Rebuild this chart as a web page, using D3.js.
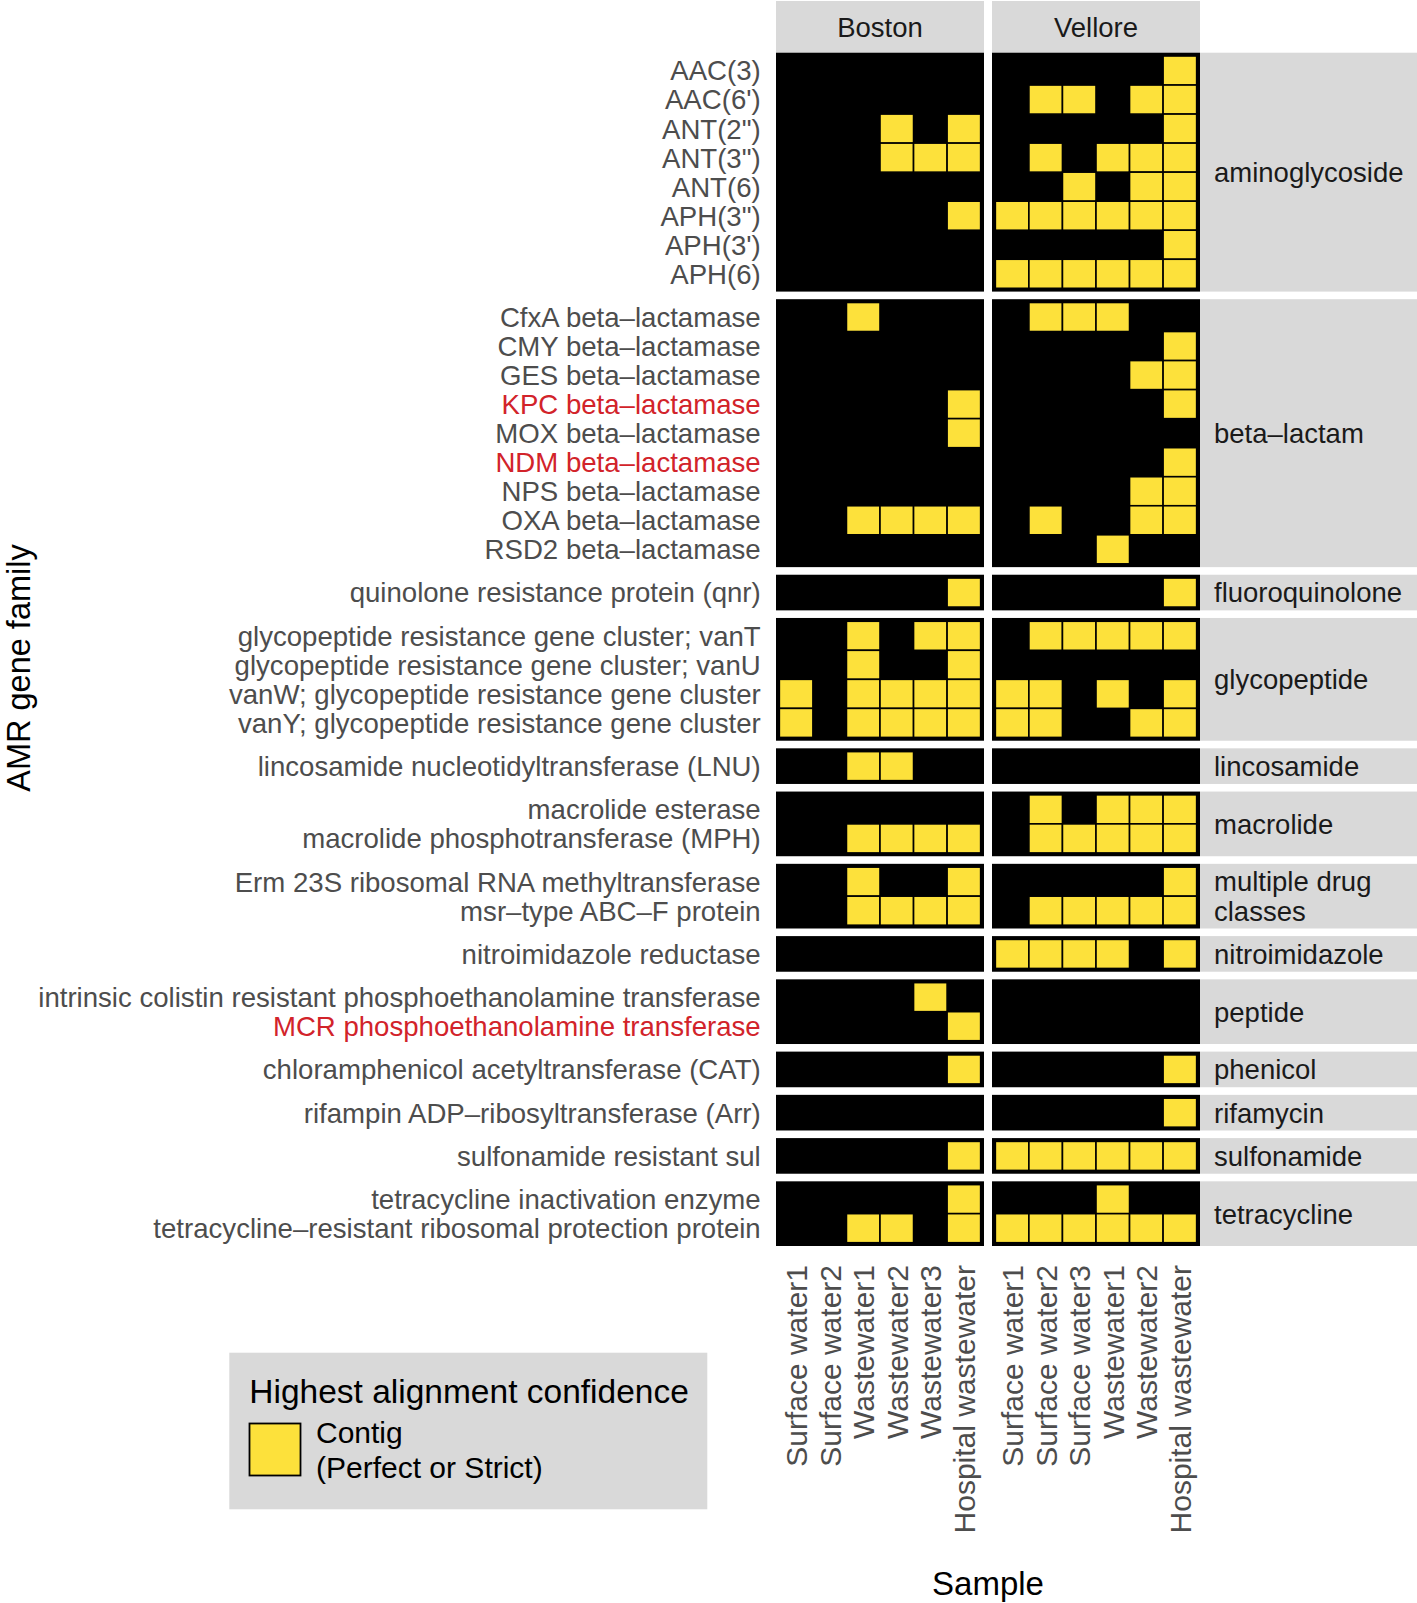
<!DOCTYPE html>
<html><head><meta charset="utf-8">
<script src="https://cdn.jsdelivr.net/npm/d3@7"></script>
<style>
body{margin:0;background:#fff;}
svg text{font-family:"Liberation Sans", Arial, Helvetica, sans-serif;}
</style></head><body>
<svg id="chart" width="1417" height="1603"></svg>
<script>
// ---------------- data ----------------
const sites = ["Boston", "Vellore"];
const bostonSamples = ["Surface water1","Surface water2","Wastewater1","Wastewater2","Wastewater3","Hospital wastewater"];
const velloreSamples = ["Surface water1","Surface water2","Surface water3","Wastewater1","Wastewater2","Hospital wastewater"];
const families = ["aminoglycoside","beta–lactam","fluoroquinolone","glycopeptide","lincosamide","macrolide",
  "multiple drug\nclasses","nitroimidazole","peptide","phenicol","rifamycin","sulfonamide","tetracycline"];
const genes = [
  "AAC(3)","AAC(6')","ANT(2\")","ANT(3\")","ANT(6)","APH(3\")","APH(3')","APH(6)",
  "CfxA beta–lactamase","CMY beta–lactamase","GES beta–lactamase","KPC beta–lactamase","MOX beta–lactamase",
  "NDM beta–lactamase","NPS beta–lactamase","OXA beta–lactamase","RSD2 beta–lactamase",
  "quinolone resistance protein (qnr)",
  "glycopeptide resistance gene cluster; vanT","glycopeptide resistance gene cluster; vanU",
  "vanW; glycopeptide resistance gene cluster","vanY; glycopeptide resistance gene cluster",
  "lincosamide nucleotidyltransferase (LNU)",
  "macrolide esterase","macrolide phosphotransferase (MPH)",
  "Erm 23S ribosomal RNA methyltransferase","msr–type ABC–F protein",
  "nitroimidazole reductase",
  "intrinsic colistin resistant phosphoethanolamine transferase","MCR phosphoethanolamine transferase",
  "chloramphenicol acetyltransferase (CAT)",
  "rifampin ADP–ribosyltransferase (Arr)",
  "sulfonamide resistant sul",
  "tetracycline inactivation enzyme","tetracycline–resistant ribosomal protection protein"
];
const geneFamily = [0,0,0,0,0,0,0,0, 1,1,1,1,1,1,1,1,1, 2, 3,3,3,3, 4, 5,5, 6,6, 7, 8,8, 9, 10, 11, 12,12];
// presence (1) of contig hits per gene, columns in sample order
const bostonHits = [
  "000000","000000","000101","000111","000000","000001","000000","000000",
  "001000","000000","000000","000001","000001","000000","000000","001111","000000",
  "000001",
  "001011","001001","101111","101111",
  "001100",
  "000000","001111",
  "001001","001111",
  "000000",
  "000010","000001",
  "000001",
  "000000",
  "000001",
  "000001","001101"
];
const velloreHits = [
  "000001","011011","000001","010111","001011","111111","000001","111111",
  "011100","000001","000011","000001","000000","000001","000011","010011","000100",
  "000001",
  "011111","000000","110101","110011",
  "000000",
  "010111","011111",
  "000001","011111",
  "111101",
  "000000","000000",
  "000001",
  "000001",
  "111111",
  "000100","111111"
];
const highlightedGenes = ["KPC beta–lactamase","NDM beta–lactamase","MCR phosphoethanolamine transferase"];
const legendTitle = "Highest alignment confidence";
const legendLabel = ["Contig","(Perfect or Strict)"];
const xTitle = "Sample";
const yTitle = "AMR gene family";

// ---------------- layout ----------------
const svg = d3.select("#chart");
const YELLOW = "#FDE13B", STRIP = "#D9D9D9";
const plotTop = 52.7, plotBottom = 1246, gapY = 7.6, padY = 3.3;
const siteX = [[776, 984], [992, 1200]];
const siteSamples = [bostonSamples, velloreSamples];
const siteHits = [bostonHits, velloreHits];
const nF = families.length;
const unit = (plotBottom - plotTop - gapY * (nF - 1) - 2 * padY * nF) / genes.length;

let cursor = plotTop;
const famLayout = families.map((f, fi) => {
  const g = genes.filter((_, i) => geneFamily[i] === fi);
  const h = g.length * unit + 2 * padY;
  const y = d3.scaleBand().domain(g).range([cursor, cursor + h]).paddingInner(0).paddingOuter(padY / unit);
  const out = {name: f, genes: g, top: cursor, bottom: cursor + h, y};
  cursor += h + gapY;
  return out;
});

const xScales = siteSamples.map((s, si) =>
  d3.scaleBand().domain(s).range(siteX[si]).paddingInner(0).paddingOuter(0.1));

// top strips
sites.forEach((s, si) => {
  svg.append("rect").attr("x", siteX[si][0]).attr("y", 1).attr("width", siteX[si][1] - siteX[si][0])
    .attr("height", plotTop - 1).attr("fill", STRIP);
  svg.append("text").attr("x", (siteX[si][0] + siteX[si][1]) / 2).attr("y", 37)
    .attr("text-anchor", "middle").attr("font-size", 27.5).attr("fill", "#1A1A1A").text(s);
});

// panels
famLayout.forEach((fl) => {
  sites.forEach((s, si) => {
    const x = xScales[si];
    svg.append("rect").attr("x", siteX[si][0]).attr("y", fl.top)
      .attr("width", siteX[si][1] - siteX[si][0]).attr("height", fl.bottom - fl.top).attr("fill", "#000");
    const cells = [];
    fl.genes.forEach(gn => {
      const gi = genes.indexOf(gn);
      siteSamples[si].forEach((smp, j) => {
        if (siteHits[si][gi][j] === "1") cells.push({gene: gn, sample: smp});
      });
    });
    svg.append("g").selectAll("rect").data(cells).join("rect")
      .attr("x", d => x(d.sample)).attr("y", d => fl.y(d.gene))
      .attr("width", x.bandwidth()).attr("height", fl.y.bandwidth())
      .attr("fill", YELLOW).attr("stroke", "#000").attr("stroke-width", 1.6);
  });
  // right strip
  svg.append("rect").attr("x", 1200).attr("y", fl.top).attr("width", 217)
    .attr("height", fl.bottom - fl.top).attr("fill", STRIP);
  const lines = fl.name.split("\n");
  const cy = (fl.top + fl.bottom) / 2;
  const lh = 30;
  lines.forEach((ln, k) => {
    svg.append("text").attr("x", 1214)
      .attr("y", cy + 9.9 + (k - (lines.length - 1) / 2) * lh)
      .attr("font-size", 27.5).attr("fill", "#1A1A1A").text(ln);
  });
  // y axis
  const ax = svg.append("g").attr("transform", "translate(776,0)")
    .call(d3.axisLeft(fl.y).tickSize(0).tickPadding(15.3));
  ax.select(".domain").remove();
  ax.selectAll("text").attr("font-size", 27.6).attr("font-family", null)
    .attr("dy", "0.36em")
    .attr("fill", d => highlightedGenes.includes(d) ? "#D2232A" : "#4D4D4D");
});

// x axes
sites.forEach((s, si) => {
  const ax = svg.append("g").attr("transform", `translate(0,${plotBottom})`)
    .call(d3.axisBottom(xScales[si]).tickSize(0));
  ax.select(".domain").remove();
  ax.selectAll("text").attr("font-size", 30).attr("font-family", null).attr("fill", "#4D4D4D")
    .attr("transform", "rotate(-90)").attr("text-anchor", "end")
    .attr("x", -19).attr("y", 0).attr("dy", "0.37em");
});

// axis titles
svg.append("text").attr("x", 988).attr("y", 1595).attr("text-anchor", "middle")
  .attr("font-size", 33).attr("fill", "#000").text(xTitle);
svg.append("text").attr("transform", "translate(30,668) rotate(-90)").attr("text-anchor", "middle")
  .attr("font-size", 32.5).attr("fill", "#000").text(yTitle);

// legend
const lg = svg.append("g");
lg.append("rect").attr("x", 229.3).attr("y", 1352.7).attr("width", 478).attr("height", 156.6).attr("fill", STRIP);
lg.append("text").attr("x", 249.3).attr("y", 1403).attr("font-size", 33.5).attr("fill", "#000").text(legendTitle);
lg.append("rect").attr("x", 249.5).attr("y", 1423.5).attr("width", 51).attr("height", 52)
  .attr("fill", YELLOW).attr("stroke", "#000").attr("stroke-width", 1.8);
legendLabel.forEach((t, k) => {
  lg.append("text").attr("x", 316).attr("y", 1443 + k * 35).attr("font-size", 30).attr("fill", "#000").text(t);
});
</script>
</body></html>
